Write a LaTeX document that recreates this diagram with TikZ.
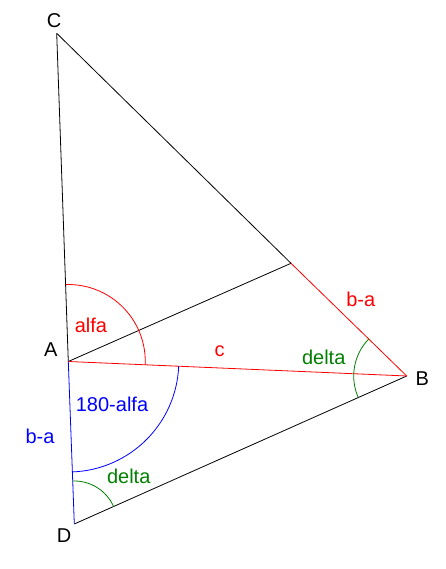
\documentclass[tikz,border=0pt]{standalone}
\usepackage{fontspec}
\setmainfont{Liberation Sans}
\usepackage{xcolor}
\usepackage{tikz}
\usetikzlibrary{angles}
\definecolor{deltagreen}{RGB}{0,128,0}

\begin{document}
\begin{tikzpicture}[
x=1pt,y=1pt,
Sides/.style={draw=black,line width=0.8pt},
RedSides/.style={draw=red,line width=0.8pt},
BlueSides/.style={draw=blue,line width=0.8pt},
MyArcs/.style={line width=0.8pt},
every node/.style={font=\fontsize{20}{23}\selectfont,inner sep=0pt}
]
\useasboundingbox (0,0) rectangle (446,569);

\coordinate (A) at (68.3,207.5);
\coordinate (B) at (406.7,193);
\coordinate (C) at (56.7,535.7);
\coordinate (D) at (74.3,45);
\coordinate (E) at (291,305.7);

% sides
\draw[Sides] (C)--(A);
\draw[Sides] (C)--(E);
\draw[Sides] (A)--(E);
\draw[Sides] (D)--(B);
\draw[RedSides] (E)--(B);
\draw[RedSides] (A)--(B);
\draw[BlueSides] (A)--(D);

% angles
\pic[draw=red,MyArcs,angle radius=77pt] {angle=B--A--C};
\pic[draw=blue,MyArcs,angle radius=110.5pt] {angle=D--A--B};
\pic[draw=deltagreen,MyArcs,angle radius=43pt] {angle=B--D--A};
\pic[draw=deltagreen,MyArcs,angle radius=53pt] {angle=C--B--D};

% labels
\node (labC) at (54,548) {C};
\node (labA) at (50.7,219) {A};
\node (labB) at (422.3,190.7) {B};
\node (labD) at (64,33) {D};
\node[red] (alfa) at (91,243.3) {alfa};
\node[red] (c) at (219.5,217.3) {c};
\node[red] (ba1) at (360.8,270) {b-a};
\node[deltagreen] (deltaB) at (323.7,211.5) {delta};
\node[blue] (alfa2) at (112,165) {180-alfa};
\node[blue] (ba2) at (40,133) {b-a};
\node[deltagreen] (deltaD) at (128.7,93) {delta};

\end{tikzpicture}
\end{document}
